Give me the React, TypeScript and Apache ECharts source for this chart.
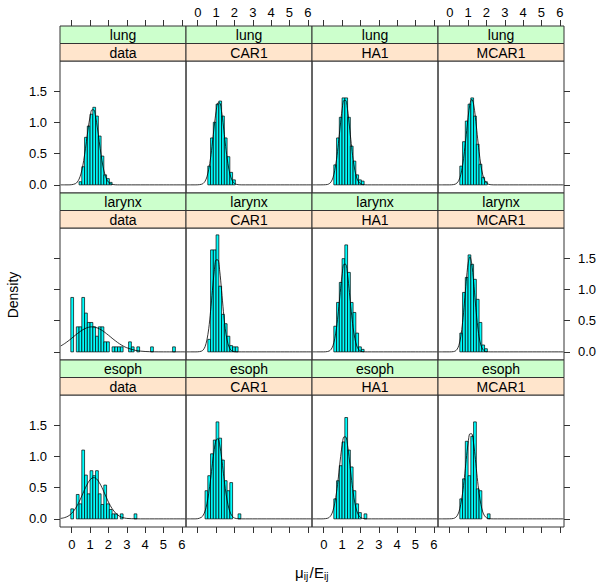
import React, { useEffect, useRef } from "react";
import * as echarts from "echarts";

// ---------- data ----------
const sites = ["lung", "larynx", "esoph"];
const models = ["data", "CAR1", "HA1", "MCAR1"];

// histogram breaks: bin k spans [binStart + k*binWidth, binStart + (k+1)*binWidth]
const binStart = -0.05;
const binWidth = 0.15;

const lungData = [0, 0, 0, 0.05, 0.29, 0.76, 0.94, 1.13, 1.24, 1.1, 0.78, 0.46, 0.16, 0.1, 0.04];
const lungCAR1 = [0, 0, 0, 0, 0.3, 0.75, 1.0, 1.29, 1.34, 1.1, 0.75, 0.45, 0.2, 0.08];
const lungHA1 = [0, 0, 0, 0, 0.32, 0.75, 1.08, 1.39, 1.39, 1.08, 0.62, 0.38, 0.16, 0.08, 0.06];
const lungMCAR1 = [0, 0, 0, 0, 0.3, 0.69, 1.02, 1.29, 1.39, 1.1, 0.65, 0.33, 0.12, 0.05];

const larynxData = [
  0.87, 0, 0.4, 0.4, 0.87, 0.62, 0.47, 0.47, 0.4, 0.25, 0.4, 0.4, 0.16, 0.16, 0, 0.08, 0.08, 0.08, 0.08, 0,
  0, 0.16, 0.08, 0, 0.08, 0, 0, 0, 0, 0.08, 0, 0, 0, 0, 0, 0, 0, 0.08,
];
const larynxCAR1 = [0, 0, 0, 0, 0.2, 1.63, 1.63, 1.87, 1.05, 0.6, 0.45, 0.25, 0.1, 0.08, 0.08];
const larynxHA1 = [0, 0, 0, 0, 0.41, 0.79, 1.11, 1.49, 1.71, 1.27, 0.79, 0.63, 0.3, 0.08, 0.04];
const larynxMCAR1 = [0, 0, 0, 0, 0.3, 0.95, 1.19, 1.55, 1.4, 1.16, 0.84, 0.47, 0.11, 0.05];

const esophData = [
  0.16, 0, 0.39, 0.24, 1.1, 0.7, 0.4, 0.77, 0.69, 0.77, 0.4, 0.23, 0.54, 0.24, 0.15, 0.08, 0.08, 0, 0.08, 0,
  0, 0, 0, 0.08,
];
const esophCAR1 = [0, 0, 0, 0.45, 0.69, 1.04, 1.26, 1.55, 1.29, 0.94, 0.61, 0.45, 0.58, 0, 0, 0.08];
const esophHA1 = [0, 0, 0, 0, 0.32, 0.61, 0.85, 1.23, 1.62, 1.1, 0.83, 0.45, 0.24, 0.1, 0, 0.08];
const esophMCAR1 = [0, 0, 0, 0, 0.32, 0.64, 1.24, 0.69, 1.32, 1.55, 0.48, 0.45, 0, 0, 0.08];

// density curves at these x positions
const curveX = [
  -0.6, -0.4, -0.2, 0, 0.2, 0.3, 0.4, 0.5, 0.6, 0.7, 0.8, 0.9, 1.0, 1.1, 1.2, 1.3, 1.4, 1.5, 1.6, 1.7, 1.8, 1.9,
  2.0, 2.1, 2.2, 2.4, 2.6, 2.8, 3.0, 3.5, 4.0, 4.5, 5.0, 6.2,
];
const lungDataCurve = [
  0, 0, 0, 0.003, 0.019, 0.044, 0.092, 0.174, 0.3, 0.48, 0.69, 0.91, 1.09, 1.2, 1.2, 1.09, 0.91, 0.69, 0.48, 0.3,
  0.174, 0.092, 0.044, 0.019, 0.008, 0.001, 0, 0, 0, 0, 0, 0, 0, 0,
];
const lungCAR1Curve = [
  0, 0, 0, 0.001, 0.009, 0.024, 0.058, 0.127, 0.25, 0.43, 0.67, 0.94, 1.17, 1.31, 1.31, 1.17, 0.94, 0.67, 0.43,
  0.25, 0.127, 0.058, 0.024, 0.009, 0.003, 0, 0, 0, 0, 0, 0, 0, 0, 0,
];
const lungHA1Curve = [
  0, 0, 0, 0.001, 0.006, 0.019, 0.048, 0.111, 0.23, 0.41, 0.66, 0.94, 1.2, 1.35, 1.35, 1.2, 0.94, 0.66, 0.41, 0.23,
  0.111, 0.048, 0.019, 0.006, 0.002, 0, 0, 0, 0, 0, 0, 0, 0, 0,
];
const lungMCAR1Curve = [
  0, 0, 0, 0, 0.004, 0.011, 0.031, 0.074, 0.16, 0.31, 0.53, 0.8, 1.08, 1.29, 1.37, 1.29, 1.08, 0.8, 0.53, 0.31,
  0.16, 0.074, 0.031, 0.011, 0.004, 0, 0, 0, 0, 0, 0, 0, 0, 0,
];
const larynxDataCurve = [
  0.094, 0.13, 0.172, 0.218, 0.267, 0.29, 0.313, 0.334, 0.353, 0.369, 0.382, 0.392, 0.398, 0.4, 0.398, 0.392,
  0.382, 0.369, 0.353, 0.334, 0.313, 0.29, 0.267, 0.243, 0.218, 0.172, 0.13, 0.094, 0.066, 0.022, 0.006, 0.001, 0,
  0,
];
const larynxCAR1Curve = [
  0, 0, 0, 0.001, 0.011, 0.032, 0.083, 0.19, 0.37, 0.65, 0.98, 1.29, 1.47, 1.47, 1.29, 0.98, 0.65, 0.37, 0.19,
  0.083, 0.032, 0.011, 0.003, 0.001, 0, 0, 0, 0, 0, 0, 0, 0, 0, 0,
];
const larynxHA1Curve = [
  0, 0, 0, 0, 0.005, 0.014, 0.039, 0.096, 0.21, 0.39, 0.65, 0.95, 1.23, 1.4, 1.4, 1.23, 0.95, 0.65, 0.39, 0.21,
  0.096, 0.039, 0.014, 0.005, 0.001, 0, 0, 0, 0, 0, 0, 0, 0, 0,
];
const larynxMCAR1Curve = [
  0, 0, 0, 0, 0.004, 0.013, 0.041, 0.106, 0.24, 0.47, 0.78, 1.13, 1.41, 1.52, 1.41, 1.13, 0.78, 0.47, 0.24, 0.106,
  0.041, 0.013, 0.004, 0.001, 0, 0, 0, 0, 0, 0, 0, 0, 0, 0,
];
const esophDataCurve = [
  0.007, 0.019, 0.043, 0.089, 0.165, 0.214, 0.271, 0.334, 0.4, 0.467, 0.529, 0.582, 0.625, 0.651, 0.66, 0.651,
  0.625, 0.582, 0.529, 0.467, 0.4, 0.334, 0.271, 0.214, 0.165, 0.089, 0.043, 0.019, 0.007, 0.001, 0, 0, 0, 0,
];
const esophCAR1Curve = [
  0, 0, 0, 0.003, 0.025, 0.059, 0.125, 0.24, 0.41, 0.63, 0.88, 1.11, 1.26, 1.28, 1.18, 0.98, 0.73, 0.49, 0.3, 0.164,
  0.081, 0.036, 0.014, 0.005, 0.002, 0, 0, 0, 0, 0, 0, 0, 0, 0,
];
const esophHA1Curve = [
  0, 0, 0, 0.001, 0.009, 0.024, 0.058, 0.127, 0.25, 0.43, 0.67, 0.94, 1.17, 1.31, 1.31, 1.17, 0.94, 0.67, 0.43,
  0.25, 0.127, 0.058, 0.024, 0.009, 0.003, 0, 0, 0, 0, 0, 0, 0, 0, 0,
];
const esophMCAR1Curve = [
  0, 0, 0, 0.001, 0.006, 0.019, 0.048, 0.111, 0.23, 0.41, 0.66, 0.95, 1.21, 1.36, 1.36, 1.21, 0.95, 0.66, 0.41,
  0.23, 0.111, 0.048, 0.019, 0.006, 0.002, 0, 0, 0, 0, 0, 0, 0, 0, 0,
];

const hist = [
  [lungData, lungCAR1, lungHA1, lungMCAR1],
  [larynxData, larynxCAR1, larynxHA1, larynxMCAR1],
  [esophData, esophCAR1, esophHA1, esophMCAR1],
];
const curves = [
  [lungDataCurve, lungCAR1Curve, lungHA1Curve, lungMCAR1Curve],
  [larynxDataCurve, larynxCAR1Curve, larynxHA1Curve, larynxMCAR1Curve],
  [esophDataCurve, esophCAR1Curve, esophHA1Curve, esophMCAR1Curve],
];

const xTicks = [0, 1, 2, 3, 4, 5, 6];
const yTicks = [0, 0.5, 1, 1.5];

// ---------- layout ----------
const xMin = -0.64;
const xMax = 6.23;
const yMin = -0.13;
const yMax = 1.98;
const colLeft = [60, 186, 312, 438];
const rowTop = [26, 193, 360];
const panelW = 126;
const stripH = 17.5;
const panelH = 132;
const FONT = '"Liberation Sans", Arial, Helvetica, sans-serif';
const LINE = "#333333";

function buildOption() {
  const grid: any[] = [];
  const xAxis: any[] = [];
  const yAxis: any[] = [];
  const series: any[] = [];
  const graphic: any[] = [];

  const labelStyle = { fontSize: 13, color: "#000", fontFamily: FONT };
  const noLine = { show: false, onZero: false };
  const tick = (show: boolean, values: number[]) => ({
    show,
    inside: false,
    customValues: values,
    length: 6,
    lineStyle: { color: LINE, width: 1 },
  });
  const yFmt = (v: number) => v.toFixed(1);

  for (let r = 0; r < 3; r++) {
    for (let c = 0; c < 4; c++) {
      const gi = grid.length;
      grid.push({
        left: colLeft[c],
        top: rowTop[r] + 2 * stripH,
        width: panelW,
        height: panelH,
        show: true,
        borderColor: LINE,
        borderWidth: 1,
        backgroundColor: "transparent",
        containLabel: false,
        outerBoundsMode: "none",
      });

      const xi = xAxis.length;
      xAxis.push({
        type: "value",
        gridIndex: gi,
        min: xMin,
        max: xMax,
        position: "bottom",
        axisLine: noLine,
        splitLine: { show: false },
        axisTick: tick(r === 2, xTicks),
        axisLabel: { show: r === 2 && c % 2 === 0, customValues: xTicks, margin: 11, ...labelStyle },
      });

      const yi = yAxis.length;
      yAxis.push({
        type: "value",
        gridIndex: gi,
        min: yMin,
        max: yMax,
        position: "left",
        axisLine: noLine,
        splitLine: { show: false },
        axisTick: tick(c === 0, yTicks),
        axisLabel: { show: c === 0 && r !== 1, customValues: yTicks, margin: 13, formatter: yFmt, ...labelStyle },
      });
      if (c === 3) {
        yAxis.push({
          type: "value",
          gridIndex: gi,
          min: yMin,
          max: yMax,
          position: "right",
          axisLine: noLine,
          splitLine: { show: false },
          axisTick: tick(true, yTicks),
          axisLabel: { show: r === 1, customValues: yTicks, margin: 14, formatter: yFmt, ...labelStyle },
        });
      }

      const bars = hist[r][c]
        .map((h, k) => [binStart + k * binWidth, binStart + (k + 1) * binWidth, h])
        .filter((d) => d[2] > 0);

      series.push({
        type: "custom",
        xAxisIndex: xi,
        yAxisIndex: yi,
        data: bars,
        encode: { x: [0, 1], y: 2 },
        silent: true,
        z: 2,
        renderItem: (_params: any, api: any) => {
          const p0 = api.coord([api.value(0), api.value(2)]);
          const p1 = api.coord([api.value(1), 0]);
          return {
            type: "rect",
            shape: { x: p0[0], y: p0[1], width: p1[0] - p0[0], height: p1[1] - p0[1] },
            style: { fill: "#00FFFF", stroke: "#000000", lineWidth: 0.7 },
          };
        },
      });

      series.push({
        type: "line",
        xAxisIndex: xi,
        yAxisIndex: yi,
        data: curveX.map((x, i) => [x, curves[r][c][i]]),
        symbol: "none",
        showSymbol: false,
        smooth: 0.3,
        silent: true,
        z: 3,
        lineStyle: { color: "#000000", width: 0.8 },
      });

      // strips
      const sx = colLeft[c];
      const sy = rowTop[r];
      graphic.push({
        type: "rect",
        shape: { x: sx, y: sy, width: panelW, height: stripH },
        style: { fill: "#CCFFCC", stroke: LINE, lineWidth: 1 },
        silent: true,
      });
      graphic.push({
        type: "rect",
        shape: { x: sx, y: sy + stripH, width: panelW, height: stripH },
        style: { fill: "#FFE5CC", stroke: LINE, lineWidth: 1 },
        silent: true,
      });
      [
        { t: sites[r], y: sy + stripH / 2 + 0.5 },
        { t: models[c], y: sy + stripH * 1.5 + 0.5 },
      ].forEach((s) =>
        graphic.push({
          type: "text",
          x: sx + panelW / 2,
          y: s.y,
          silent: true,
          style: {
            text: s.t,
            fill: "#000",
            font: `14px ${FONT}`,
            textAlign: "center",
            textVerticalAlign: "middle",
            align: "center",
            verticalAlign: "middle",
          },
        })
      );
    }
  }

  // top axis above the strips of the first row (separate invisible grids)
  for (let c = 0; c < 4; c++) {
    const gi = grid.length;
    grid.push({
      left: colLeft[c],
      top: rowTop[0],
      width: panelW,
      height: 2 * stripH + panelH,
      show: false,
      containLabel: false,
      outerBoundsMode: "none",
    });
    xAxis.push({
      type: "value",
      gridIndex: gi,
      min: xMin,
      max: xMax,
      position: "top",
      axisLine: noLine,
      splitLine: { show: false },
      axisTick: tick(true, xTicks),
      axisLabel: { show: c % 2 === 1, customValues: xTicks, margin: 7, ...labelStyle },
    });
    yAxis.push({
      type: "value",
      gridIndex: gi,
      min: 0,
      max: 1,
      show: false,
    });
  }

  // axis titles
  graphic.push({
    type: "text",
    x: 13,
    y: 295,
    rotation: Math.PI / 2,
    silent: true,
    style: {
      text: "Density",
      fill: "#000",
      font: `14px ${FONT}`,
      textAlign: "center",
      textVerticalAlign: "middle",
      align: "center",
      verticalAlign: "middle",
    },
  });
  const tx = 295;
  const ty = 572;
  const parts = [
    { t: "μ", dx: 0, dy: 0, s: 15 },
    { t: "ij", dx: 8.7, dy: 4.5, s: 10 },
    { t: "/", dx: 14.5, dy: 0, s: 15 },
    { t: "E", dx: 19, dy: 0, s: 15 },
    { t: "ij", dx: 29, dy: 4.5, s: 10 },
  ];
  parts.forEach((p) => {
    graphic.push({
      type: "text",
      x: tx + p.dx,
      y: ty + p.dy,
      silent: true,
      style: {
        text: p.t,
        fill: "#000",
        font: `${p.s}px ${FONT}`,
        textAlign: "left",
        textVerticalAlign: "middle",
        align: "left",
        verticalAlign: "middle",
      },
    });
  });

  return {
    animation: false,
    backgroundColor: "#ffffff",
    grid,
    xAxis,
    yAxis,
    series,
    graphic: { elements: graphic },
  };
}

export default function App() {
  const ref = useRef<HTMLDivElement>(null);
  useEffect(() => {
    document.body.style.margin = "0";
    const chart = echarts.init(ref.current!, null, { renderer: "svg" });
    chart.setOption(buildOption() as any);
    return () => chart.dispose();
  }, []);
  return <div ref={ref} style={{ width: 600, height: 585 }} />;
}
